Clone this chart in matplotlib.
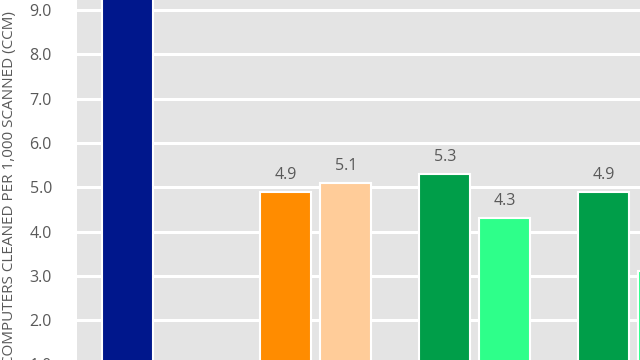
import matplotlib
matplotlib.use("Agg")
import matplotlib.pyplot as plt
import numpy as np

groups = ["Group A", "Group B", "Group C", "Group D"]
first_vals = [11.0, 4.9, 5.3, 4.9]
second_vals = [None, 5.1, 4.3, 3.1]
first_colors = ["#00178C", "#FF8C00", "#009E49", "#009E49"]
second_colors = ["#FFFFFF", "#FFCC99", "#2EFF8A", "#2EFF8A"]
yticks = [1.0, 2.0, 3.0, 4.0, 5.0, 6.0, 7.0, 8.0, 9.0, 10.0]
ylabel = "COMPUTERS CLEANED PER 1,000 SCANNED (CCM)"

plt.rcParams['font.family'] = ['Open Sans', 'DejaVu Sans']

fig = plt.figure(figsize=(6.4, 3.6), dpi=100)
fig.patch.set_facecolor("white")

pxu = 44.3  # pixels per unit
y_top_px = 10 - (10 - 9) * pxu  # pixel y of value 10
bottom_px = 10 + 9 * pxu
ax_bottom = 1 - bottom_px / 360
ax_height = 10 * pxu / 360
gsp = 159.0
xl, xr = -50 / gsp, 3.7
ax = fig.add_axes([77 / 640, ax_bottom, (xr - xl) * gsp / 640, ax_height])
ax.set_facecolor("#E4E4E4")
ax.set_xlim(xl, xr)
ax.set_ylim(0, 10)

off = 60 / gsp
w = 51 / gsp
x = np.arange(len(groups))
for i in range(len(groups)):
    v = first_vals[i]
    ax.bar(x[i], v, width=w, color=first_colors[i], edgecolor="white", linewidth=1.5, zorder=3)
    ax.text(x[i], v + 0.2, f"{v:.1f}", ha="center", va="bottom", fontsize=11.5, color="#595959", zorder=4)
    v2 = second_vals[i]
    if v2 is not None:
        ax.bar(x[i] + off, v2, width=w, color=second_colors[i], edgecolor="white", linewidth=1.5, zorder=3)
        ax.text(x[i] + off, v2 + 0.2, f"{v2:.1f}", ha="center", va="bottom", fontsize=11.5, color="#595959", zorder=4)

ax.set_yticks(yticks)
ax.set_yticklabels([f"{t:.1f}" for t in yticks], fontsize=11.5, color="#595959")
ax.set_xticks([])
ax.tick_params(axis="y", length=0, pad=18)
ax.yaxis.grid(True, color="white", linewidth=2.2, zorder=1)
ax.set_axisbelow(True)
for s in ax.spines.values():
    s.set_visible(False)

fig.text(10 / 640, 1 - 188 / 360, ylabel, rotation=90, ha="center", va="center",
         fontsize=11, color="#595959")

fig.savefig("out.png", dpi=100)
